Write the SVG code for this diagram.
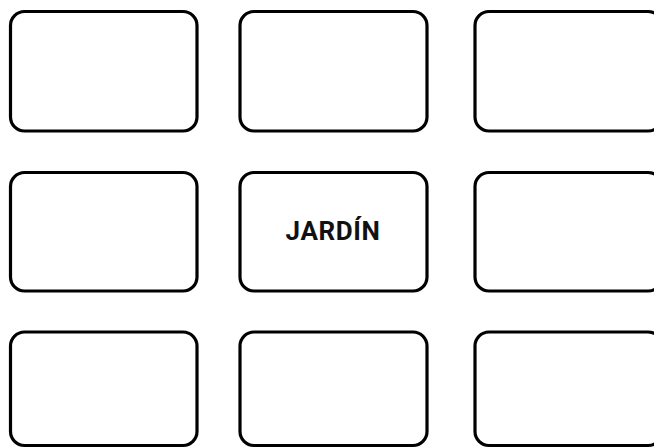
<svg xmlns="http://www.w3.org/2000/svg" width="654" height="448" viewBox="0 0 654 448">
<style>
.box{fill:#fff;stroke:#000;stroke-width:3.2}
.lbl{font-family:Roboto,"DejaVu Sans",sans-serif;font-weight:bold;font-size:26px;letter-spacing:0.6px;fill:#111;text-anchor:middle}
</style>
<rect width="654" height="448" fill="#fff"/>
<g id="n1"><rect class="box" x="10.5" y="11.5" width="186.5" height="119.5" rx="14"/></g>
<g id="n2"><rect class="box" x="240" y="11.5" width="187" height="119.5" rx="14"/></g>
<g id="n3"><rect class="box" x="475" y="11.5" width="187" height="119.5" rx="14"/></g>
<g id="n4"><rect class="box" x="10.5" y="172.5" width="186.5" height="118.5" rx="14"/></g>
<g id="n5"><rect class="box" x="240" y="172.5" width="187" height="118.5" rx="14"/><text class="lbl" x="333" y="240">JARDÍN</text></g>
<g id="n6"><rect class="box" x="475" y="172.5" width="187" height="118.5" rx="14"/></g>
<g id="n7"><rect class="box" x="10.5" y="332" width="186.5" height="113.5" rx="14"/></g>
<g id="n8"><rect class="box" x="240" y="332" width="187" height="113.5" rx="14"/></g>
<g id="n9"><rect class="box" x="475" y="332" width="187" height="113.5" rx="14"/></g>
<g id="connectors"/>
</svg>
